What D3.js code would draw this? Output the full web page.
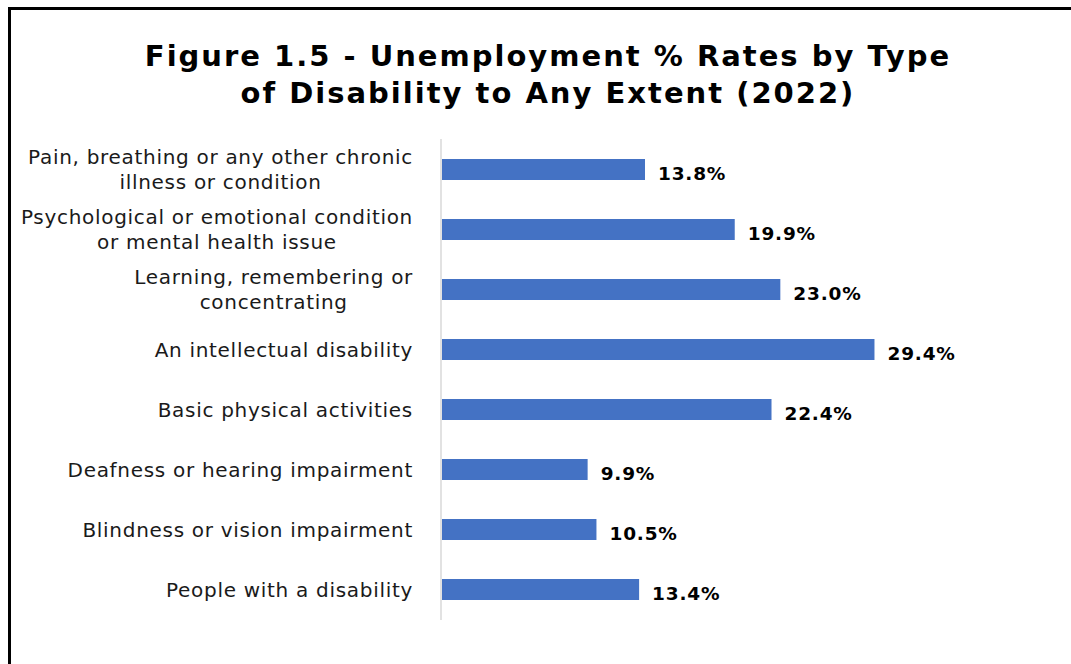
<!DOCTYPE html>
<html>
<head>
<meta charset="utf-8">
<script src="https://cdn.jsdelivr.net/npm/d3@7"></script>
<style>
  body { margin: 0; background: #fff; }
  svg { display: block; font-family: Verdana, "DejaVu Sans", sans-serif; }
</style>
</head>
<body>
<div id="chart"></div>
<script>
// categories, top to bottom
const categories = [
  ["Pain, breathing or any other chronic", "illness or condition"],
  ["Psychological or emotional condition", "or mental health issue"],
  ["Learning, remembering or", "concentrating"],
  ["An intellectual disability"],
  ["Basic physical activities"],
  ["Deafness or hearing impairment"],
  ["Blindness or vision impairment"],
  ["People with a disability"]
]
const rates = [13.8, 19.9, 23.0, 29.4, 22.4, 9.9, 10.5, 13.4]
const titleLines = ["Figure 1.5 - Unemployment % Rates by Type", "of Disability to Any Extent (2022)"]

const width = 1071
const height = 664
const margin = {top: 140, right: 190, bottom: 44, left: 442}

const svg = d3.select("#chart").append("svg")
  .attr("width", width)
  .attr("height", height)

// outer frame (runs off the right and bottom edges)
svg.append("rect")
  .attr("x", 9.5).attr("y", 8.5)
  .attr("width", 1100).attr("height", 700)
  .attr("fill", "none")
  .attr("stroke", "#000")
  .attr("stroke-width", 3)

// title
svg.append("text")
  .attr("x", 548)
  .attr("y", 66)
  .attr("text-anchor", "middle")
  .attr("font-size", 29)
  .attr("font-weight", "bold")
  .attr("letter-spacing", 2)
  .attr("fill", "#000")
  .selectAll("tspan")
  .data(titleLines)
  .enter().append("tspan")
  .attr("x", 548)
  .attr("dy", (d, i) => i === 0 ? 0 : 37)
  .text(d => d)

const idx = d3.range(categories.length)

const y = d3.scaleBand()
  .domain(idx)
  .range([margin.top - 0.5, height - margin.bottom - 0.5])
  .paddingInner(0.65)
  .paddingOuter(0.325)

const x = d3.scaleLinear()
  .domain([0, 30])
  .range([margin.left, margin.left + 441.3])

// bars
svg.append("g")
  .selectAll("rect")
  .data(idx)
  .enter().append("rect")
  .attr("x", x(0))
  .attr("y", i => y(i))
  .attr("width", i => x(rates[i]) - x(0))
  .attr("height", y.bandwidth())
  .attr("fill", "#4472C4")

// category axis line
svg.append("line")
  .attr("x1", 441).attr("x2", 441)
  .attr("y1", margin.top - 1).attr("y2", height - margin.bottom)
  .attr("stroke", "#d9d9d9")
  .attr("stroke-width", 1.5)

// category labels: block right-aligned, wrapped lines centered
const labelRight = 413
const lineH = 25
const lab = svg.append("g")
  .attr("font-size", 20)
  .attr("letter-spacing", 0.7)
  .attr("fill", "#1a1a1a")

idx.forEach(i => {
  const lines = categories[i]
  const t = lab.append("text").attr("text-anchor", "middle")
  const cy = y(i) + y.bandwidth() / 2
  lines.forEach((s, k) => {
    t.append("tspan")
      .attr("y", cy + 7 + (k - (lines.length - 1) / 2) * lineH)
      .text(s)
  })
  const w = d3.max(t.selectAll("tspan").nodes(), n => n.getComputedTextLength())
  t.selectAll("tspan").attr("x", labelRight - w / 2)
})

// value labels
svg.append("g")
  .selectAll("text")
  .data(idx)
  .enter().append("text")
  .attr("x", i => x(rates[i]) + 13)
  .attr("y", i => y(i) + y.bandwidth() / 2 + 10.5)
  .attr("font-size", 18.5)
  .attr("font-weight", "bold")
  .attr("letter-spacing", 0.8)
  .attr("fill", "#000")
  .text(i => rates[i].toFixed(1) + "%")
</script>
</body>
</html>
